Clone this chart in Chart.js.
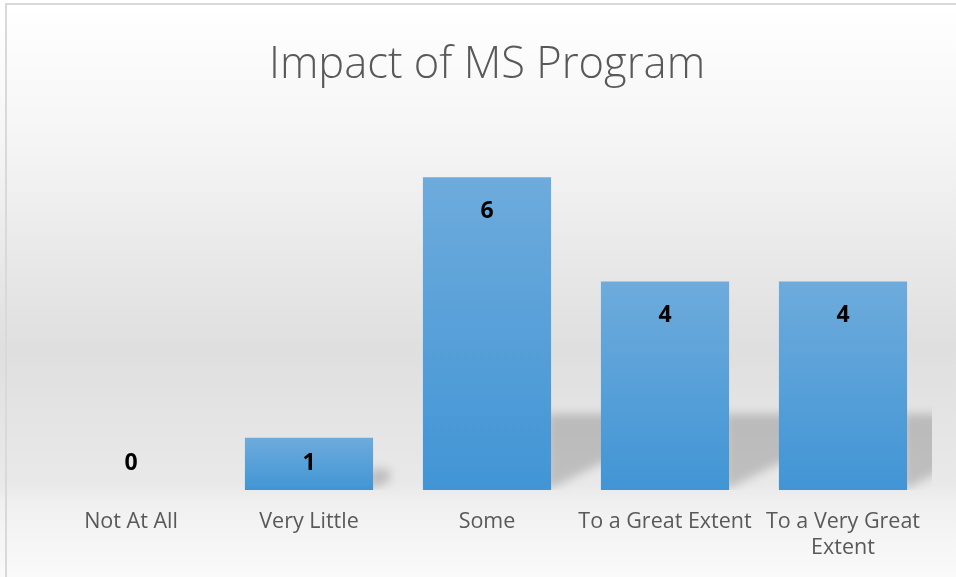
<!DOCTYPE html>
<html>
<head>
<meta charset="utf-8">
<script src="https://cdn.jsdelivr.net/npm/chart.js@4.4.1/dist/chart.umd.min.js"></script>
<style>
  html, body { margin: 0; padding: 0; background: #ffffff; }
  #wrap { width: 956px; height: 577px; position: relative; }
</style>
</head>
<body>
<div id="wrap"><canvas id="chart"></canvas></div>
<script>
/* Survey answers */
var categories = ["Not At All", "Very Little", "Some", "To a Great Extent", ["To a Very Great", "Extent"]];
var responses = [0, 1, 6, 4, 4];
var chart_title = "Impact of MS Program";
var y_max = 7;

/* Per-bar vertical gradient, light at the top */
function barFill(context) {
  var c = context.chart;
  var ys = c.scales.y;
  if (!ys || context.raw === undefined) return '#4f9dd8';
  var top = ys.getPixelForValue(context.raw);
  var base = ys.getPixelForValue(0);
  if (!isFinite(top) || !isFinite(base) || base - top < 1) return '#4f9dd8';
  var g = c.ctx.createLinearGradient(0, top, 0, base);
  g.addColorStop(0, '#6eabdc');
  g.addColorStop(1, '#4195d5');
  return g;
}

/* Gray background + frame */
const backdrop = {
  id: 'backdrop',
  beforeDraw(chart) {
    const ctx = chart.ctx;
    const g = ctx.createLinearGradient(0, 4, 0, chart.height);
    g.addColorStop(0, '#ffffff');
    g.addColorStop(0.22, '#f6f6f6');
    g.addColorStop(0.6, '#dfdfdf');
    g.addColorStop(0.84, '#e9e9e9');
    g.addColorStop(0.87, '#f0f0f0');
    g.addColorStop(1, '#fafafa');
    ctx.save();
    ctx.fillStyle = g;
    ctx.fillRect(0, 0, chart.width, chart.height);
    ctx.restore();
  },
  afterDraw(chart) {
    const ctx = chart.ctx;
    ctx.save();
    ctx.strokeStyle = '#d9d9d9';
    ctx.lineWidth = 2;
    ctx.strokeRect(6, 4, chart.width + 10, chart.height + 10);
    ctx.restore();
  }
};

/* Soft floor shadow behind each bar */
const barShadows = {
  id: 'barShadows',
  beforeDatasetsDraw(chart) {
    const ctx = chart.ctx;
    const area = chart.chartArea;
    const meta = chart.getDatasetMeta(0);
    ctx.save();
    ctx.beginPath();
    ctx.rect(area.left, area.top, area.right - area.left, area.bottom - area.top);
    ctx.clip();
    ctx.filter = 'blur(5px)';
    ctx.fillStyle = 'rgba(0,0,0,0.18)';
    meta.data.forEach(function (el) {
      const p = el.getProps(['x', 'y', 'base', 'width'], true);
      const h = p.base - p.y;
      if (h <= 1) return;
      const right = p.x + p.width / 2;
      const sh = Math.min(76, h * 0.4);
      const w = sh * 0.8;
      ctx.beginPath();
      ctx.moveTo(right - 4, p.base - sh);
      ctx.lineTo(right + w, p.base - sh);
      ctx.lineTo(right + w, p.base - sh * 0.42);
      ctx.lineTo(right - 4, p.base);
      ctx.closePath();
      ctx.fill();
    });
    ctx.restore();
  }
};

/* Value labels inside the top of each bar */
const valueLabels = {
  id: 'valueLabels',
  afterDatasetsDraw(chart) {
    const ctx = chart.ctx;
    const meta = chart.getDatasetMeta(0);
    ctx.save();
    ctx.font = 'bold 23px "Open Sans"';
    ctx.fillStyle = '#000000';
    ctx.textAlign = 'center';
    ctx.textBaseline = 'middle';
    meta.data.forEach(function (el, i) {
      const p = el.getProps(['x', 'y', 'base'], true);
      const ty = Math.min(p.y + 34, p.base - 27);
      ctx.fillText(String(responses[i]), p.x, ty);
    });
    ctx.restore();
  }
};

const ctx = document.getElementById('chart');

const hist = new Chart(ctx, {
  type: 'bar',
  data: {
    labels: categories,
    datasets: [{
      data: responses,
      backgroundColor: barFill,
      borderWidth: 0,
      categoryPercentage: 1,
      barPercentage: 0.72
    }]
  },
  options: {
    responsive: true,
    maintainAspectRatio: false,
    animation: false,
    events: [],
    layout: { padding: { left: 42, right: 24, top: 0, bottom: -3 } },
    plugins: {
      legend: { display: false },
      tooltip: { enabled: false },
      title: {
        display: true,
        text: chart_title,
        color: '#595959',
        font: { family: '"Open Sans"', size: 43.5, weight: '300', lineHeight: 1.2 },
        padding: { top: 40, bottom: 32.8 }
      }
    },
    scales: {
      x: {
        grid: { display: false, drawTicks: false },
        border: { display: false },
        ticks: {
          color: '#595959',
          font: { family: '"Open Sans"', size: 21.5, lineHeight: 1.21 },
          padding: 19,
          maxRotation: 0,
          minRotation: 0,
          autoSkip: false
        }
      },
      y: {
        display: false,
        min: 0,
        max: y_max,
        beginAtZero: true
      }
    }
  },
  plugins: [backdrop, barShadows, valueLabels]
});
</script>
</body>
</html>
